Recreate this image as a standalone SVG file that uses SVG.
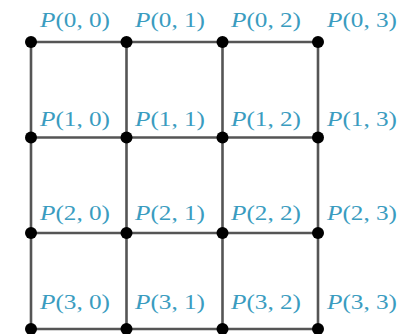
<svg xmlns="http://www.w3.org/2000/svg" width="412" height="334" viewBox="0 0 412 334">
<style>
.ln{stroke:#555;stroke-width:2.6;fill:none}
.dot{fill:#000}
.lb{font-family:"Liberation Serif","Times New Roman",serif;font-size:22px;fill:#3a9cc0}
.it{font-style:italic}
</style>
<rect width="412" height="334" fill="#fff"/>
<g id="connectors">
<path class="ln" d="M31 42H318M31 137.5H318M31 233H318M31 329H318"/>
<path class="ln" d="M31 42V334M126.5 42V334M222.5 42V334M318 42V334"/>
</g>
<g id="n00"><circle class="dot" cx="31" cy="42" r="6"/><text class="lb" x="40" y="27" textLength="70" lengthAdjust="spacingAndGlyphs"><tspan class="it">P</tspan>(0, 0)</text></g>
<g id="n01"><circle class="dot" cx="126.5" cy="42" r="6"/><text class="lb" x="135" y="27" textLength="70" lengthAdjust="spacingAndGlyphs"><tspan class="it">P</tspan>(0, 1)</text></g>
<g id="n02"><circle class="dot" cx="222.5" cy="42" r="6"/><text class="lb" x="231" y="27" textLength="70" lengthAdjust="spacingAndGlyphs"><tspan class="it">P</tspan>(0, 2)</text></g>
<g id="n03"><circle class="dot" cx="318" cy="42" r="6"/><text class="lb" x="327" y="27" textLength="70" lengthAdjust="spacingAndGlyphs"><tspan class="it">P</tspan>(0, 3)</text></g>
<g id="n10"><circle class="dot" cx="31" cy="137.5" r="6"/><text class="lb" x="40" y="126" textLength="70" lengthAdjust="spacingAndGlyphs"><tspan class="it">P</tspan>(1, 0)</text></g>
<g id="n11"><circle class="dot" cx="126.5" cy="137.5" r="6"/><text class="lb" x="135" y="126" textLength="70" lengthAdjust="spacingAndGlyphs"><tspan class="it">P</tspan>(1, 1)</text></g>
<g id="n12"><circle class="dot" cx="222.5" cy="137.5" r="6"/><text class="lb" x="231" y="126" textLength="70" lengthAdjust="spacingAndGlyphs"><tspan class="it">P</tspan>(1, 2)</text></g>
<g id="n13"><circle class="dot" cx="318" cy="137.5" r="6"/><text class="lb" x="327" y="126" textLength="70" lengthAdjust="spacingAndGlyphs"><tspan class="it">P</tspan>(1, 3)</text></g>
<g id="n20"><circle class="dot" cx="31" cy="233" r="6"/><text class="lb" x="40" y="220" textLength="70" lengthAdjust="spacingAndGlyphs"><tspan class="it">P</tspan>(2, 0)</text></g>
<g id="n21"><circle class="dot" cx="126.5" cy="233" r="6"/><text class="lb" x="135" y="220" textLength="70" lengthAdjust="spacingAndGlyphs"><tspan class="it">P</tspan>(2, 1)</text></g>
<g id="n22"><circle class="dot" cx="222.5" cy="233" r="6"/><text class="lb" x="231" y="220" textLength="70" lengthAdjust="spacingAndGlyphs"><tspan class="it">P</tspan>(2, 2)</text></g>
<g id="n23"><circle class="dot" cx="318" cy="233" r="6"/><text class="lb" x="327" y="220" textLength="70" lengthAdjust="spacingAndGlyphs"><tspan class="it">P</tspan>(2, 3)</text></g>
<g id="n30"><circle class="dot" cx="31" cy="329" r="6"/><text class="lb" x="40" y="309" textLength="70" lengthAdjust="spacingAndGlyphs"><tspan class="it">P</tspan>(3, 0)</text></g>
<g id="n31"><circle class="dot" cx="126.5" cy="329" r="6"/><text class="lb" x="135" y="309" textLength="70" lengthAdjust="spacingAndGlyphs"><tspan class="it">P</tspan>(3, 1)</text></g>
<g id="n32"><circle class="dot" cx="222.5" cy="329" r="6"/><text class="lb" x="231" y="309" textLength="70" lengthAdjust="spacingAndGlyphs"><tspan class="it">P</tspan>(3, 2)</text></g>
<g id="n33"><circle class="dot" cx="318" cy="329" r="6"/><text class="lb" x="327" y="309" textLength="70" lengthAdjust="spacingAndGlyphs"><tspan class="it">P</tspan>(3, 3)</text></g>
</svg>
